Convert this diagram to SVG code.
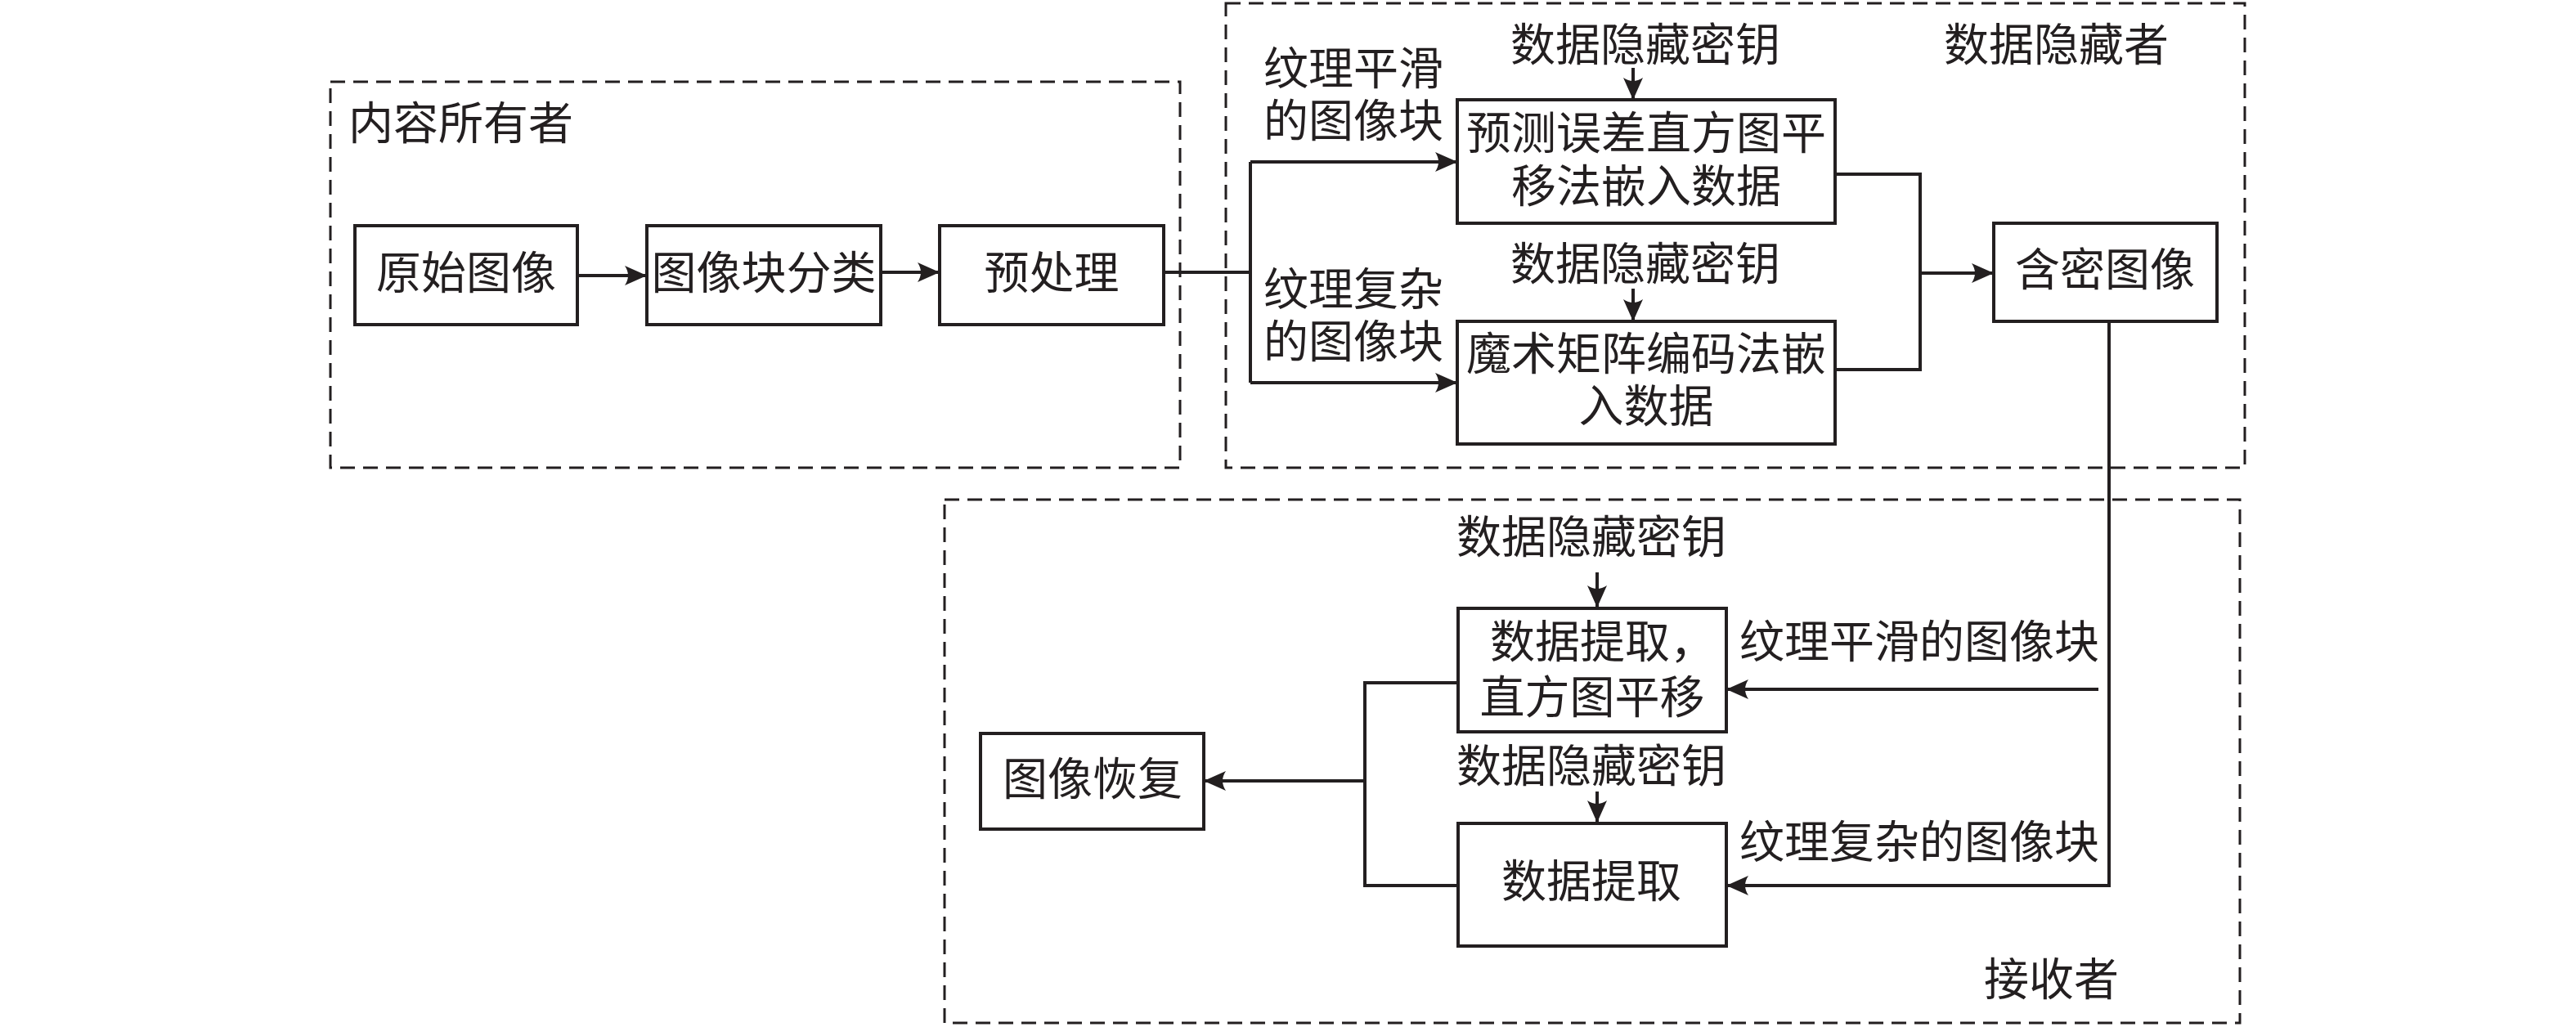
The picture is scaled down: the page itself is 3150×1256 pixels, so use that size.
<svg xmlns="http://www.w3.org/2000/svg" width="3150" height="1256" viewBox="0 0 3150 1256">
<style>
.reg{fill:none;stroke:#231f20;stroke-width:3;stroke-dasharray:18 10}
.box{fill:#fff;stroke:#231f20;stroke-width:4}
.t{font-family:"Liberation Serif","Noto Sans CJK SC",sans-serif;font-size:55px;fill:#231f20}
.c{text-anchor:middle}
.ln{fill:none;stroke:#231f20;stroke-width:4}
.ar{marker-end:url(#ah)}
</style>
<defs>
<marker id="ah" markerUnits="userSpaceOnUse" markerWidth="30" markerHeight="30" viewBox="-28 -15 30 30" refX="0" refY="0" orient="auto">
<path d="M0,0 L-27,-12 Q-19,0 -27,12 Z" fill="#231f20"/>
</marker>
</defs>
<rect width="3150" height="1256" fill="#fff"/>
<g id="regions">
<g id="owner"><rect class="reg" x="404" y="100" width="1039" height="472"/><text class="t" x="426" y="170">内容所有者</text></g>
<g id="hider"><rect class="reg" x="1499" y="4" width="1246" height="568"/><text class="t" x="2377" y="74">数据隐藏者</text></g>
<g id="receiver"><rect class="reg" x="1155" y="611" width="1584" height="640"/><text class="t" x="2426" y="1217">接收者</text></g>
</g>
<g id="connectors">
<path class="ln ar" d="M706,337 H791"/>
<path class="ln ar" d="M1077,333 H1149"/>
<path class="ln" d="M1423,333 H1529"/>
<path class="ln" d="M1529,198 V468"/>
<path class="ln ar" d="M1529,198 H1782"/>
<path class="ln ar" d="M1529,468 H1782"/>
<path class="ln ar" d="M1997,83 V122"/>
<path class="ln ar" d="M1997,353 V393"/>
<path class="ln" d="M2244,213 H2348 V452 H2244"/>
<path class="ln ar" d="M2348,334 H2438"/>
<path class="ln ar" d="M2579,393 V1083 H2111"/>
<path class="ln ar" d="M2566,843 H2111"/>
<path class="ln ar" d="M1953,700 V743"/>
<path class="ln ar" d="M1953,968 V1006"/>
<path class="ln" d="M1783,835 H1669 V1083 H1783"/>
<path class="ln ar" d="M1669,955 H1472"/>
</g>
<g id="labels">
<text class="t" x="1545" y="103">纹理平滑</text>
<text class="t" x="1545" y="167">的图像块</text>
<text class="t" x="1545" y="373">纹理复杂</text>
<text class="t" x="1545" y="437">的图像块</text>
<text class="t c" x="2012" y="74">数据隐藏密钥</text>
<text class="t c" x="2012" y="342">数据隐藏密钥</text>
<text class="t c" x="1946" y="676">数据隐藏密钥</text>
<text class="t c" x="1946" y="956">数据隐藏密钥</text>
<text class="t" x="2127" y="804">纹理平滑的图像块</text>
<text class="t" x="2127" y="1049">纹理复杂的图像块</text>
</g>
<g id="n-original"><rect class="box" x="434" y="276" width="272" height="121"/><text class="t c" x="570" y="353">原始图像</text></g>
<g id="n-classify"><rect class="box" x="791" y="276" width="286" height="121"/><text class="t c" x="934" y="353">图像块分类</text></g>
<g id="n-preprocess"><rect class="box" x="1149" y="276" width="274" height="121"/><text class="t c" x="1286" y="353">预处理</text></g>
<g id="n-pehs"><rect class="box" x="1782" y="122" width="462" height="151"/><text class="t c" x="2013" y="182">预测误差直方图平</text><text class="t c" x="2013" y="247">移法嵌入数据</text></g>
<g id="n-magic"><rect class="box" x="1782" y="393" width="462" height="150"/><text class="t c" x="2013" y="452">魔术矩阵编码法嵌</text><text class="t c" x="2013" y="516">入数据</text></g>
<g id="n-stego"><rect class="box" x="2438" y="273" width="273" height="120"/><text class="t c" x="2574" y="349">含密图像</text></g>
<g id="n-extract1"><rect class="box" x="1783" y="744" width="328" height="151"/><text class="t" x="1822" y="804">数据提取，</text><text class="t c" x="1947" y="872">直方图平移</text></g>
<g id="n-extract2"><rect class="box" x="1783" y="1007" width="328" height="150"/><text class="t c" x="1946" y="1097">数据提取</text></g>
<g id="n-recover"><rect class="box" x="1199" y="897" width="273" height="117"/><text class="t c" x="1336" y="972">图像恢复</text></g>
</svg>
